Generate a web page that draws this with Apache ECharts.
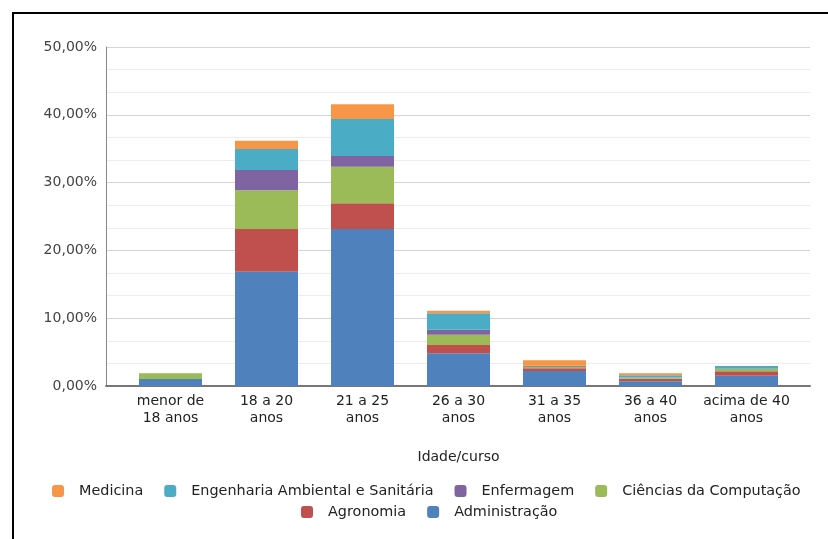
<!DOCTYPE html>
<html>
<head>
<meta charset="utf-8">
<script src="https://cdn.jsdelivr.net/npm/echarts@6/dist/echarts.min.js"></script>
<style>
html,body{margin:0;padding:0;background:#fff;overflow:hidden;}
#frame{position:absolute;left:12px;top:12px;width:1000px;height:1000px;border-left:2px solid #000;border-top:2px solid #000;box-sizing:border-box;}
#chart{position:absolute;left:0;top:0;width:828px;height:539px;}
</style>
</head>
<body>
<div id="frame"></div>
<div id="chart"></div>
<script>
const categories = ['menor de\n18 anos', '18 a 20\nanos', '21 a 25\nanos', '26 a 30\nanos', '31 a 35\nanos', '36 a 40\nanos', 'acima de 40\nanos'];
const administracao = [1.03, 16.86, 23.16, 4.82, 2.21, 0.69, 1.52];
const agronomia     = [0.00, 6.30, 3.79, 1.22, 0.40, 0.38, 0.65];
const cienciasComp  = [0.84, 5.70, 5.40, 1.52, 0.23, 0.20, 0.38];
const enfermagem    = [0.00, 3.00, 1.57, 0.74, 0.15, 0.00, 0.00];
const engenharia    = [0.00, 3.10, 5.46, 2.42, 0.00, 0.30, 0.40];
const medicina      = [0.00, 1.22, 2.17, 0.38, 0.80, 0.30, 0.00];
const seriesNames = ['Administração', 'Agronomia', 'Ciências da Computação', 'Enfermagem', 'Engenharia Ambiental e Sanitária', 'Medicina'];
const seriesData = [administracao, agronomia, cienciasComp, enfermagem, engenharia, medicina];
const colors = ['#4F81BD', '#C0504D', '#9BBB59', '#8064A2', '#4BACC6', '#F79646'];
const legendRow1 = ['Medicina', 'Engenharia Ambiental e Sanitária', 'Enfermagem', 'Ciências da Computação'];
const legendRow2 = ['Agronomia', 'Administração'];
const yTicks = [0, 10, 20, 30, 40, 50];

const font = '"DejaVu Sans", sans-serif';
const chart = echarts.init(document.getElementById('chart'), null, {renderer: 'canvas'});

const legendCommon = {
  icon: 'roundRect',
  itemWidth: 12,
  itemHeight: 12,
  itemGap: 21,
  padding: 0,
  textStyle: {fontSize: 14.4, color: '#222', fontFamily: font, padding: [0, 0, 0, 10]}
};

chart.setOption({
  animation: false,
  color: colors,
  textStyle: {fontFamily: font},
  grid: [
    {left: 106, right: 18, top: 47, height: 339},
    {left: 122.5, width: 672, top: 47, height: 339}
  ],
  xAxis: [
    {gridIndex: 0, type: 'value', min: 0, max: 1, show: true,
     axisLine: {show: true, lineStyle: {color: '#777', width: 2}},
     axisTick: {show: false}, axisLabel: {show: false}, splitLine: {show: false}},
    {gridIndex: 1, type: 'category', data: categories,
     axisLine: {show: false}, axisTick: {show: false},
     name: 'Idade/curso', nameLocation: 'middle', nameGap: 64,
     nameTextStyle: {fontSize: 14, color: '#222', fontFamily: font},
     axisLabel: {fontSize: 14, color: '#222', lineHeight: 17, margin: 7, interval: 0, fontFamily: font}}
  ],
  yAxis: [
    {gridIndex: 0, type: 'value', min: yTicks[0], max: yTicks[yTicks.length - 1], interval: 10,
     axisLine: {show: true, lineStyle: {color: '#888', width: 1}},
     axisTick: {show: false},
     axisLabel: {fontSize: 14, color: '#444', margin: 9, fontFamily: font,
       formatter: v => v.toFixed(2).replace('.', ',') + '%'},
     splitLine: {show: true, lineStyle: {color: '#d4d4d4', width: 1}},
     minorTick: {show: false, splitNumber: 3},
     minorSplitLine: {show: true, lineStyle: {color: '#ececec', width: 1}}},
    {gridIndex: 1, type: 'value', min: yTicks[0], max: yTicks[yTicks.length - 1], show: false,
     splitLine: {show: false}}
  ],
  legend: [
    Object.assign({}, legendCommon, {data: legendRow1, top: 484, left: 52}),
    Object.assign({}, legendCommon, {data: legendRow2, top: 505, left: 301})
  ],
  series: seriesNames.map((name, i) => ({
    name: name,
    type: 'bar',
    stack: 'total',
    xAxisIndex: 1,
    yAxisIndex: 1,
    barWidth: 63,
    data: seriesData[i],
    itemStyle: {color: colors[i]}
  }))
});
</script>
</body>
</html>
